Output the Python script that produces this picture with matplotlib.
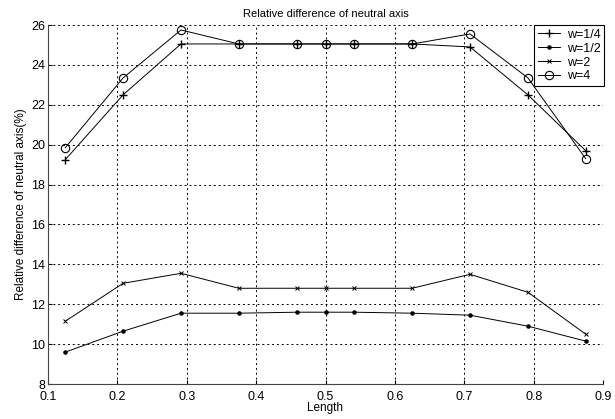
import matplotlib
matplotlib.use('Agg')
import matplotlib.pyplot as plt

# longitudes (posicion a lo largo de la viga)
length = [0.125, 0.2083, 0.2917, 0.375, 0.4583, 0.5, 0.5417, 0.625, 0.7083, 0.7917, 0.875]

# diferencia relativa (%) para cada w
w_quarter = [19.25, 22.5, 25.05, 25.05, 25.05, 25.05, 25.05, 25.05, 24.9, 22.5, 19.7]
w_half = [9.6, 10.65, 11.55, 11.55, 11.6, 11.6, 11.6, 11.55, 11.45, 10.9, 10.15]
w_two = [11.15, 13.05, 13.55, 12.8, 12.8, 12.8, 12.8, 12.8, 13.5, 12.6, 10.5]
w_four = [19.85, 23.35, 25.75, 25.05, 25.05, 25.05, 25.05, 25.05, 25.55, 23.35, 19.3]

plt.rcParams['font.family'] = ['Liberation Sans', 'DejaVu Sans']
plt.rcParams['font.size'] = 8.5

fig = plt.figure(figsize=(6.15, 4.19), dpi=100)
ax = fig.add_axes([48 / 615, 1 - 384 / 419, (603 - 48) / 615, (384 - 25) / 419])

lw = 0.7
ax.plot(length, w_quarter, color='k', lw=lw, marker='+', markersize=6, markeredgewidth=1.0, label='w=1/4')
ax.plot(length, w_half, color='k', lw=lw, marker='.', markersize=4.5, label='w=1/2')
ax.plot(length, w_two, color='k', lw=lw, marker='x', markersize=3.5, markeredgewidth=0.7, label='w=2')
ax.plot(length, w_four, color='k', lw=lw, marker='o', markersize=6, markerfacecolor='none', markeredgewidth=0.8, label='w=4')

ax.set_xlim(0.1, 0.9)
ax.set_ylim(8, 26)
ax.set_xticks([0.1, 0.2, 0.3, 0.4, 0.5, 0.6, 0.7, 0.8, 0.9])
ax.set_yticks(range(8, 27, 2))
ax.grid(True, color='k', linestyle=(0, (2, 3)), linewidth=0.7)
ax.tick_params(direction='in', length=3, pad=2, labelsize=9)
ax.tick_params(axis='x', pad=5)
ax.spines['top'].set_visible(False)
ax.spines['right'].set_visible(False)
ax.spines['left'].set_color('#444444')
ax.spines['bottom'].set_color('#444444')

ax.set_xlabel('Length', labelpad=-1)
ax.set_ylabel('Relative difference of neutral axis(%)', labelpad=3)
ax.set_title('Relative difference of neutral axis', fontsize=8, pad=6)

leg = ax.legend(loc='upper right', bbox_to_anchor=(1.002, 1.0), borderaxespad=0, fancybox=False,
                edgecolor='k', framealpha=1, borderpad=0.3, labelspacing=0.15, handlelength=1.8,
                handletextpad=0.5, fontsize=9)
leg.get_frame().set_linewidth(0.8)

fig.savefig('out.png', dpi=100)
